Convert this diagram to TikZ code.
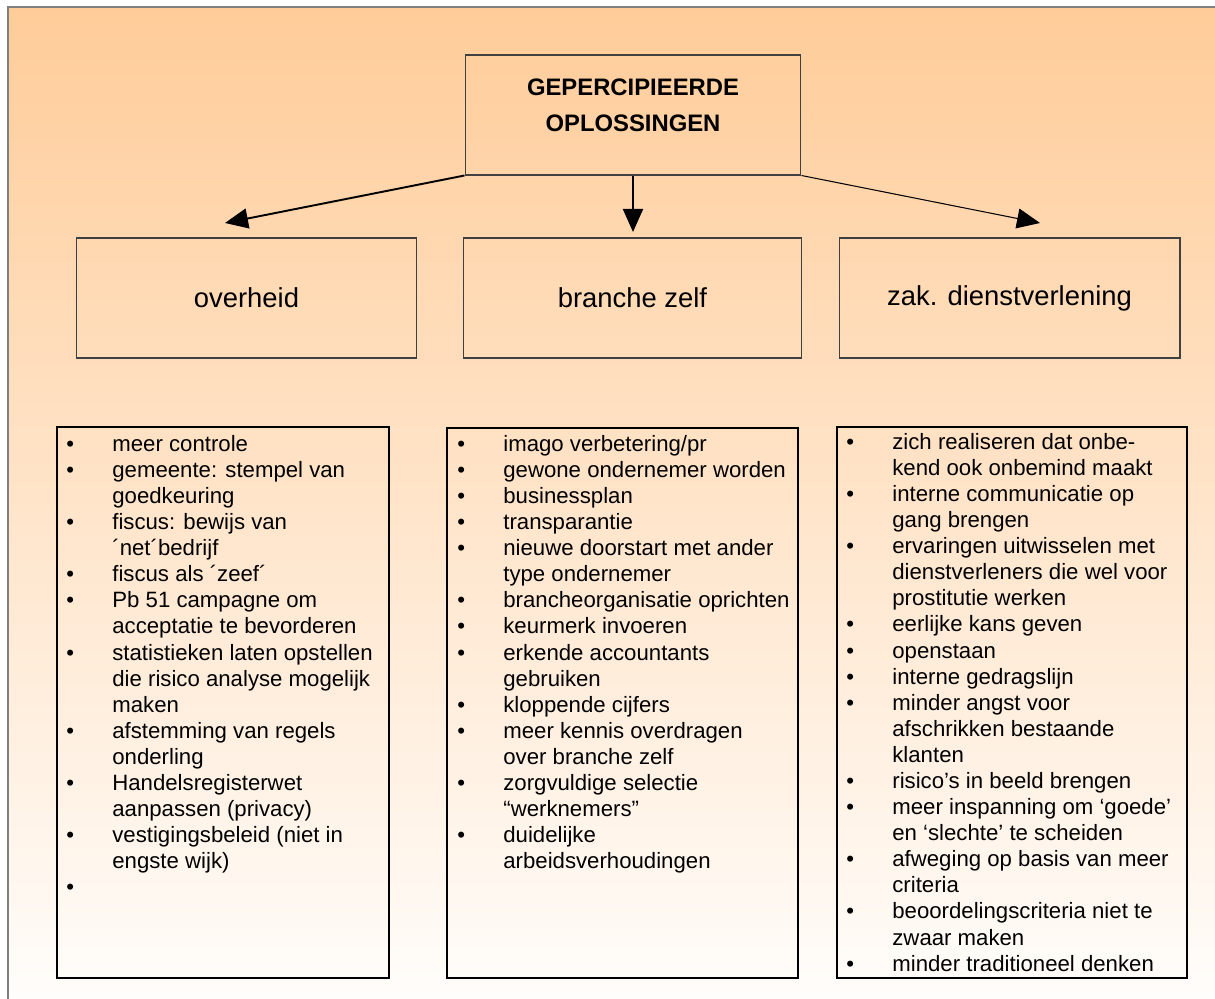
\documentclass[tikz,border=0pt]{standalone}
\usepackage{fontspec}
\setmainfont{Liberation Sans}
\usetikzlibrary{arrows.meta,positioning}
\definecolor{peach}{HTML}{FFCC99}
\definecolor{cream}{HTML}{FFFDFB}
\definecolor{rim}{HTML}{808080}
\definecolor{edge}{HTML}{404040}

\begin{document}
\begin{tikzpicture}[x=0.02cm,y=-0.02cm,
  catbox/.style={draw=edge,line width=0.6pt,minimum height=2.4cm,inner sep=0pt,font=\fontsize{15.6}{18}\selectfont},
  listbox/.style={draw=black,line width=0.6pt},
  listtext/.style={anchor=north west,inner sep=0pt,font=\fontsize{12.63}{14.85}\selectfont},
  arr/.style={-{Triangle[length=0.46cm,width=0.4cm]},line width=1.1pt}]
  \useasboundingbox (0,0) rectangle (1215,999);
  % background panel
  \shade[top color=peach,bottom color=cream] (8,7) rectangle (1215,999);
  \draw[rim,line width=1pt] (8,999) -- (8,7) -- (1215,7);

  % top box
  \node[draw=edge,line width=0.6pt,minimum width=6.72cm,minimum height=2.4cm] (sol) at (633,115) {};
  \node[font=\bfseries\fontsize{13.57}{20.5}\selectfont,align=center] (soltxt) at (633,105) {GEPERCIPIEERDE\\OPLOSSINGEN};

  % three groups
  \foreach \n/\cx/\w/\txt in {gov/246.5/6.82/overheid, branch/632.5/6.78/branche zelf, service/1009.5/6.82/zak. dienstverlening}{
    \node[catbox,minimum width=\w cm] (\n) at (\cx,298) {\txt};
  }
  \coordinate (govtip) at (225,223);
  \coordinate (branchtip) at (633,232);
  \coordinate (servicetip) at (1040,223);
  \draw[arr] (sol.south west) -- (govtip);
  \draw[arr] (sol.south) -- (branchtip);
  \draw[arr,line width=0.6pt] (sol.south east) -- (servicetip);

  % lists
  \draw[listbox] (57,427) rectangle (389,978);
  \node[listtext] (govlist) at (66,432.7) {\begin{tabular}{@{}p{26.2pt}@{}l@{}}
    \textbullet & meer controle\\
    \textbullet & gemeente: stempel van\\
    & goedkeuring\\
    \textbullet & fiscus: bewijs van\\
    & ´net´bedrijf\\
    \textbullet & fiscus als ´zeef´\\
    \textbullet & Pb 51 campagne om\\
    & acceptatie te bevorderen\\
    \textbullet & statistieken laten opstellen\\
    & die risico analyse mogelijk\\
    & maken\\
    \textbullet & afstemming van regels\\
    & onderling\\
    \textbullet & Handelsregisterwet\\
    & aanpassen (privacy)\\
    \textbullet & vestigingsbeleid (niet in\\
    & engste wijk)\\
    \textbullet &
  \end{tabular}};

  \draw[listbox] (447,428) rectangle (798,978);
  \node[listtext] (branchlist) at (457,432.7) {\begin{tabular}{@{}p{26.2pt}@{}l@{}}
    \textbullet & imago verbetering/pr\\
    \textbullet & gewone ondernemer worden\\
    \textbullet & businessplan\\
    \textbullet & transparantie\\
    \textbullet & nieuwe doorstart met ander\\
    & type ondernemer\\
    \textbullet & brancheorganisatie oprichten\\
    \textbullet & keurmerk invoeren\\
    \textbullet & erkende accountants\\
    & gebruiken\\
    \textbullet & kloppende cijfers\\
    \textbullet & meer kennis overdragen\\
    & over branche zelf\\
    \textbullet & zorgvuldige selectie\\
    & “werknemers”\\
    \textbullet & duidelijke\\
    & arbeidsverhoudingen
  \end{tabular}};

  \draw[listbox] (837,427) rectangle (1187,978);
  \node[listtext] (servicelist) at (846,430.7) {\begin{tabular}{@{}p{26.2pt}@{}l@{}}
    \textbullet & zich realiseren dat onbe-\\
    & kend ook onbemind maakt\\
    \textbullet & interne communicatie op\\
    & gang brengen\\
    \textbullet & ervaringen uitwisselen met\\
    & dienstverleners die wel voor\\
    & prostitutie werken\\
    \textbullet & eerlijke kans geven\\
    \textbullet & openstaan\\
    \textbullet & interne gedragslijn\\
    \textbullet & minder angst voor\\
    & afschrikken bestaande\\
    & klanten\\
    \textbullet & risico’s in beeld brengen\\
    \textbullet & meer inspanning om ‘goede’\\
    & en ‘slechte’ te scheiden\\
    \textbullet & afweging op basis van meer\\
    & criteria\\
    \textbullet & beoordelingscriteria niet te\\
    & zwaar maken\\
    \textbullet & minder traditioneel denken
  \end{tabular}};
\end{tikzpicture}
\end{document}
